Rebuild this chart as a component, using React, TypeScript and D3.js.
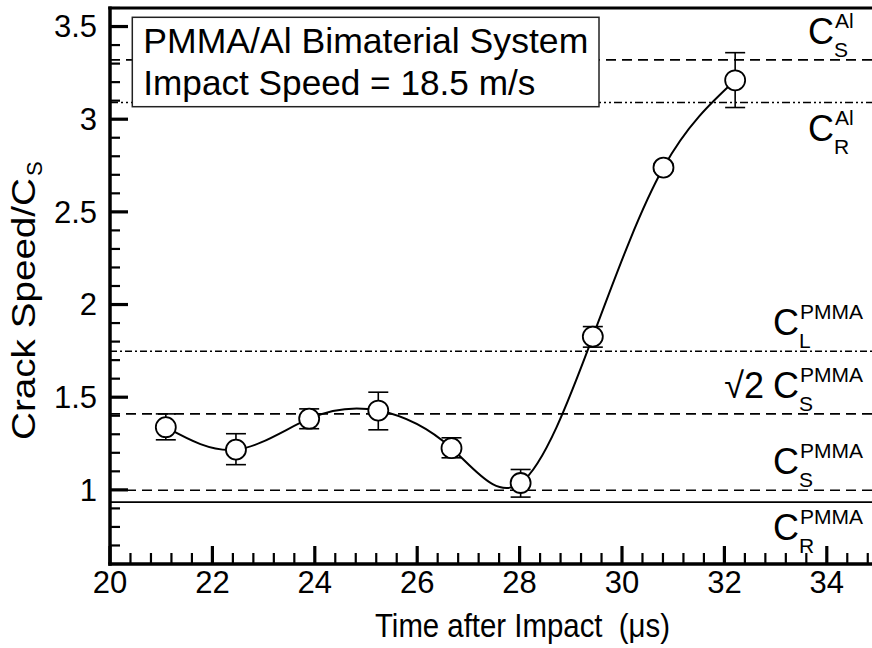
import React from 'react';
import * as d3 from 'd3';

// ---- data ----
const times = [21.09, 22.46, 23.89, 25.24, 26.67, 28.02, 29.43, 30.81, 32.21];
const speeds = [1.338, 1.217, 1.384, 1.428, 1.225, 1.037, 1.827, 2.739, 3.21];
const errLow = [1.27, 1.136, 1.33, 1.324, 1.173, 0.961, 1.77, 2.72, 3.063];
const errHigh = [1.41, 1.303, 1.437, 1.527, 1.281, 1.11, 1.881, 2.76, 3.359];

const refValues = [3.32, 3.09, 1.748, 1.41, 0.998, 0.934];
const refPrefix = ['', '', '', '√2', '', ''];
const refSup = ['Al', 'Al', 'PMMA', 'PMMA', 'PMMA', 'PMMA'];
const refSub = ['S', 'R', 'L', 'S', 'S', 'R'];
const refStyle = ['dash', 'dashdotdot', 'dashdot', 'dash', 'dash', 'solid'];
const refSide = ['above', 'below', 'above', 'above', 'above', 'below'];

const xTickValues = [20, 22, 24, 26, 28, 30, 32, 34];
const yTickValues = [1, 1.5, 2, 2.5, 3, 3.5];
const yTickLabels = ['1', '1.5', '2', '2.5', '3', '3.5'];

const titleLine1 = 'PMMA/Al Bimaterial System';
const titleLine2 = 'Impact Speed = 18.5 m/s';
const xTitle = 'Time after Impact  (μs)';
const yTitle = 'Crack Speed/C';
const yTitleSub = 'S';

const FONT = '"Liberation Sans", Arial, Helvetica, sans-serif';

const dashFor: Record<string, string | undefined> = {
  dash: '10,6',
  dashdot: '7,3,2,3',
  dashdotdot: '8,3,2,3,2,3',
  solid: undefined,
};

export default function App() {
  const W = 872;
  const H = 648;
  const x = d3.scaleLinear().domain([20, 36]).range([110, 929.2]);
  const y = d3.scaleLinear().domain([0.6, 3.6]).range([564, 8]);

  const pts: [number, number][] = times.map((t, i) => [x(t), y(speeds[i])]);
  const line = d3.line().curve(d3.curveNatural)(pts) || '';

  const xMinor = d3.range(20, 36.01, 0.4).filter((v) => Math.abs(v / 2 - Math.round(v / 2)) > 1e-6);
  const yMinor = d3.range(0.7, 3.601, 0.1).filter((v) => Math.abs(v * 2 - Math.round(v * 2)) > 1e-6);

  const axisLeft = 110;
  const axisBottom = 564;

  return (
    <svg
      width={W}
      height={H}
      viewBox={`0 0 ${W} ${H}`}
      style={{ position: 'absolute', left: 0, top: 0, background: '#fff' }}
      fontFamily={FONT}
    >
      <rect x={0} y={0} width={W} height={H} fill="#fff" />

      {/* reference lines */}
      {refValues.map((v, i) => (
        <line
          key={'ref' + i}
          x1={axisLeft}
          x2={W}
          y1={y(v)}
          y2={y(v)}
          stroke="#000"
          strokeWidth={1.6}
          strokeDasharray={dashFor[refStyle[i]]}
        />
      ))}

      {/* fitted curve */}
      <path d={line} fill="none" stroke="#000" strokeWidth={2} />

      {/* error bars */}
      {times.map((t, i) => (
        <g key={'eb' + i} stroke="#000" strokeWidth={1.6}>
          <line x1={x(t)} x2={x(t)} y1={y(errLow[i])} y2={y(errHigh[i])} />
          <line x1={x(t) - 10} x2={x(t) + 10} y1={y(errLow[i])} y2={y(errLow[i])} />
          <line x1={x(t) - 10} x2={x(t) + 10} y1={y(errHigh[i])} y2={y(errHigh[i])} />
        </g>
      ))}

      {/* points */}
      {times.map((t, i) => (
        <circle key={'pt' + i} cx={x(t)} cy={y(speeds[i])} r={10} fill="#fff" stroke="#000" strokeWidth={1.8} />
      ))}

      {/* title box */}
      <rect x={132.3} y={17.3} width={466.7} height={89.4} fill="#fff" stroke="#222" strokeWidth={1.5} />
      <text x={143.3} y={53.3} fontSize={35} fill="#000" textLength={445} lengthAdjust="spacingAndGlyphs">
        {titleLine1}
      </text>
      <text x={143.3} y={95} fontSize={35} fill="#000" textLength={392} lengthAdjust="spacingAndGlyphs">
        {titleLine2}
      </text>

      {/* frame */}
      <line x1={axisLeft - 1.75} x2={W} y1={8} y2={8} stroke="#000" strokeWidth={3} />
      <line x1={axisLeft} x2={axisLeft} y1={6.5} y2={axisBottom + 1.75} stroke="#000" strokeWidth={3.5} />
      <line x1={axisLeft - 1.75} x2={W} y1={axisBottom} y2={axisBottom} stroke="#000" strokeWidth={3.5} />

      {/* x ticks */}
      {xTickValues.map((v) => (
        <line key={'xt' + v} x1={x(v)} x2={x(v)} y1={axisBottom} y2={axisBottom - 18} stroke="#000" strokeWidth={3.2} />
      ))}
      {xMinor.map((v, i) => (
        <line key={'xm' + i} x1={x(v)} x2={x(v)} y1={axisBottom} y2={axisBottom - 11} stroke="#000" strokeWidth={2.2} />
      ))}
      {xTickValues.map((v) => (
        <text key={'xl' + v} x={x(v)} y={593} fontSize={31} textAnchor="middle" fill="#000">
          {String(v)}
        </text>
      ))}

      {/* y ticks */}
      {yTickValues.map((v) => (
        <line key={'yt' + v} x1={axisLeft} x2={axisLeft + 18} y1={y(v)} y2={y(v)} stroke="#000" strokeWidth={3.2} />
      ))}
      {yMinor.map((v, i) => (
        <line key={'ym' + i} x1={axisLeft} x2={axisLeft + 10} y1={y(v)} y2={y(v)} stroke="#000" strokeWidth={2.2} />
      ))}
      {yTickValues.map((v, i) => (
        <text key={'yl' + v} x={97} y={y(v) + 10.8} fontSize={31} textAnchor="end" fill="#000">
          {yTickLabels[i]}
        </text>
      ))}

      {/* axis titles */}
      <text
        x={375}
        y={636.7}
        fontSize={34}
        fill="#000"
        textLength={295}
        lengthAdjust="spacingAndGlyphs"
        xmlSpace="preserve"
        style={{ whiteSpace: 'pre' }}
      >
        {xTitle}
      </text>
      <g transform="translate(35,440) rotate(-90)">
        <text x={0} y={0} fontSize={33} fill="#000" textLength={262} lengthAdjust="spacingAndGlyphs">
          {yTitle}
        </text>
        <text x={264} y={7} fontSize={22} fill="#000">
          {yTitleSub}
        </text>
      </g>

      {/* reference line labels */}
      {refValues.map((v, i) => {
        const cx = refSup[i] === 'Al' ? 808 : 773;
        const base = y(v) + (refSide[i] === 'above' ? -16 : 38);
        return (
          <g key={'rl' + i} fill="#000">
            {refPrefix[i] && (
              <text x={764} y={base} fontSize={36} textAnchor="end">
                {refPrefix[i]}
              </text>
            )}
            <text x={cx} y={base} fontSize={36}>
              C
            </text>
            <text x={cx + 27} y={base - 16} fontSize={21}>
              {refSup[i]}
            </text>
            <text x={cx + 26} y={base + 13} fontSize={21}>
              {refSub[i]}
            </text>
          </g>
        );
      })}
    </svg>
  );
}
